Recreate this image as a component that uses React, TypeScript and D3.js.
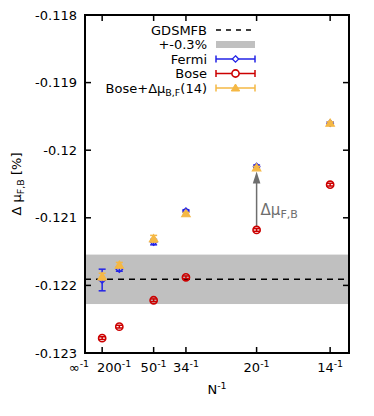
import React from "react";
import * as d3 from "d3";

const sizesN = [200, 100, 50, 34, 20, 14];
const boseVals = [-0.12278, -0.12261, -0.12222, -0.12188, -0.12118, -0.12051];
const boseErr = [0.00002, 0.00002, 0.00002, 0.00002, 0.00002, 0.00002];
const fermiVals = [-0.12192, -0.12176, -0.12136, -0.1209, -0.12024, -0.1196];
const fermiErr = [0.00016, 0.00003, 0.00004, 0.00002, 0.00002, 0.00002];
const adjVals = [-0.12187, -0.1217, -0.12131, -0.12094, -0.12026, -0.1196];
const adjErr = [0.00005, 0.00004, 0.00005, 0.00002, 0.00002, 0.00002];
const gdsmfb = -0.12191;
const bandPct = 0.003;
const xTickN = [Infinity, 200, 50, 34, 20, 14];
const xTickLabels = ["∞", "200", "50", "34", "20", "14"];
const yTicks = [-0.118, -0.119, -0.12, -0.121, -0.122, -0.123];
const yTickLabels = ["-0.118", "-0.119", "-0.12", "-0.121", "-0.122", "-0.123"];

const BLUE = "#2323e6";
const RED = "#cc0000";
const ORANGE = "#f5b845";
const GRAY = "#c0c0c0";
const FONT = "DejaVu Sans, sans-serif";

export default function App() {
  const L = 85, R = 349, T = 15, B = 353;
  const x = d3.scaleLinear().domain([0, 1 / 13]).range([L, R]);
  const y = d3.scaleLinear().domain([-0.123, -0.118]).range([B, T]);
  const labelShift = [-6, 12, 0, 0, 0, 0];

  const errBar = (cx: number, v: number, e: number, color: string, key: string) => {
    const y1 = y(v + e), y2 = y(v - e);
    return (
      <g key={key} stroke={color} strokeWidth={1.5}>
        <line x1={cx} x2={cx} y1={y1} y2={y2} />
        <line x1={cx - 3.5} x2={cx + 3.5} y1={y1} y2={y1} />
        <line x1={cx - 3.5} x2={cx + 3.5} y1={y2} y2={y2} />
      </g>
    );
  };
  const diamond = (cx: number, cy: number) => `M${cx},${cy - 3.2}L${cx + 3.2},${cy}L${cx},${cy + 3.2}L${cx - 3.2},${cy}Z`;
  const tri = (cx: number, cy: number) => `M${cx},${cy - 4}L${cx + 4.2},${cy + 3}L${cx - 4.2},${cy + 3}Z`;

  const bandLo = gdsmfb * (1 + bandPct);
  const bandHi = gdsmfb * (1 - bandPct);
  const ax = x(1 / 20);

  const legendY = [30, 44.5, 59, 73.5, 88];
  const lx1 = 216, lx2 = 255, lmid = 235.5, ltx = 207;

  return (
    <svg width={374} height={416} style={{ position: "absolute", left: 0, top: 0 }} fontFamily={FONT}>
      <rect width={374} height={416} fill="white" />
      <rect x={L} y={y(bandHi)} width={R - L} height={y(bandLo) - y(bandHi)} fill={GRAY} />
      <line x1={L} x2={R} y1={y(gdsmfb)} y2={y(gdsmfb)} stroke="black" strokeWidth={1.5} strokeDasharray="6,5" />

      {/* arrow */}
      <line x1={ax} x2={ax} y1={y(boseVals[4]) - 4} y2={y(fermiVals[4]) + 14} stroke="#6e6e6e" strokeWidth={1.5} />
      <path d={`M${ax},${y(fermiVals[4]) + 5}L${ax + 3.8},${y(fermiVals[4]) + 17}L${ax - 3.8},${y(fermiVals[4]) + 17}Z`} fill="#6e6e6e" />
      <text x={ax + 4} y={215} fill="#6e6e6e" fontSize={15}>Δμ<tspan fontSize={11} dy={3}>F,B</tspan></text>

      {/* Bose */}
      {sizesN.map((n, i) => (
        <g key={"b" + i}>
          {errBar(x(1 / n), boseVals[i], boseErr[i], RED, "be" + i)}
          <circle cx={x(1 / n)} cy={y(boseVals[i])} r={3.6} fill="none" stroke={RED} strokeWidth={1.6} />
        </g>
      ))}
      {/* Fermi */}
      {sizesN.map((n, i) => (
        <g key={"f" + i}>
          {errBar(x(1 / n), fermiVals[i], fermiErr[i], BLUE, "fe" + i)}
          <path d={diamond(x(1 / n), y(fermiVals[i]))} fill="none" stroke={BLUE} strokeWidth={1.3} />
        </g>
      ))}
      {/* Bose + delta */}
      {sizesN.map((n, i) => (
        <g key={"a" + i}>
          {errBar(x(1 / n), adjVals[i], adjErr[i], ORANGE, "ae" + i)}
          <path d={tri(x(1 / n), y(adjVals[i]))} fill={ORANGE} stroke={ORANGE} strokeWidth={1.2} />
        </g>
      ))}

      {/* axes frame */}
      <rect x={L} y={T} width={R - L} height={B - T} fill="none" stroke="black" strokeWidth={2} />
      {yTicks.map((v, i) => (
        <g key={"yt" + i}>
          <line x1={L} x2={L + 6} y1={y(v)} y2={y(v)} stroke="black" strokeWidth={1.5} />
          <line x1={R - 6} x2={R} y1={y(v)} y2={y(v)} stroke="black" strokeWidth={1.5} />
          <text x={77} y={y(v)} dy="0.36em" textAnchor="end" fontSize={13}>{yTickLabels[i]}</text>
        </g>
      ))}
      {xTickN.map((n, i) => {
        const xv = x(1 / n);
        return (
          <g key={"xt" + i}>
            {i > 0 && <line x1={xv} x2={xv} y1={B} y2={B - 6} stroke="black" strokeWidth={1.5} />}
            {i > 0 && <line x1={xv} x2={xv} y1={T} y2={T + 6} stroke="black" strokeWidth={1.5} />}
            <text x={xv + labelShift[i]} y={372} textAnchor="middle" fontSize={13}>
              {xTickLabels[i]}<tspan fontSize={9.5} dy={-5}>-1</tspan>
            </text>
          </g>
        );
      })}
      <text x={217} y={394} textAnchor="middle" fontSize={13}>N<tspan fontSize={9.5} dy={-5}>-1</tspan></text>
      <text transform={`translate(21,184) rotate(-90)`} textAnchor="middle" fontSize={13}>
        Δ μ<tspan fontSize={9.5} dy={3}>F,B</tspan><tspan dy={-3}> [%]</tspan>
      </text>

      {/* legend */}
      <text x={ltx} y={legendY[0]} dy="0.36em" textAnchor="end" fontSize={13}>GDSMFB</text>
      <line x1={lx1} x2={lx2} y1={legendY[0]} y2={legendY[0]} stroke="black" strokeWidth={1.5} strokeDasharray="5,5" />
      <text x={ltx} y={legendY[1]} dy="0.36em" textAnchor="end" fontSize={13}>+-0.3%</text>
      <rect x={lx1} y={legendY[1] - 3.5} width={lx2 - lx1} height={7} fill={GRAY} />
      {[
        { label: "Fermi", color: BLUE, m: "d" },
        { label: "Bose", color: RED, m: "c" },
        { label: "adj", color: ORANGE, m: "t" },
      ].map((e, k) => {
        const ly = legendY[2 + k];
        return (
          <g key={"lg" + k}>
            <text x={ltx} y={ly} dy="0.36em" textAnchor="end" fontSize={13}>
              {e.m === "t" ? (
                <>Bose+Δμ<tspan fontSize={9.5} dy={3}>B,F</tspan><tspan dy={-3}>(14)</tspan></>
              ) : e.label}
            </text>
            <g stroke={e.color} strokeWidth={1.5}>
              <line x1={lx1} x2={lx2} y1={ly} y2={ly} />
              <line x1={lx1} x2={lx1} y1={ly - 3.5} y2={ly + 3.5} />
              <line x1={lx2} x2={lx2} y1={ly - 3.5} y2={ly + 3.5} />
            </g>
            {e.m === "d" && <path d={diamond(lmid, ly)} fill="white" stroke={BLUE} strokeWidth={1.3} />}
            {e.m === "c" && <circle cx={lmid} cy={ly} r={3.6} fill="white" stroke={RED} strokeWidth={1.6} />}
            {e.m === "t" && <path d={tri(lmid, ly)} fill={ORANGE} stroke={ORANGE} />}
          </g>
        );
      })}
    </svg>
  );
}
